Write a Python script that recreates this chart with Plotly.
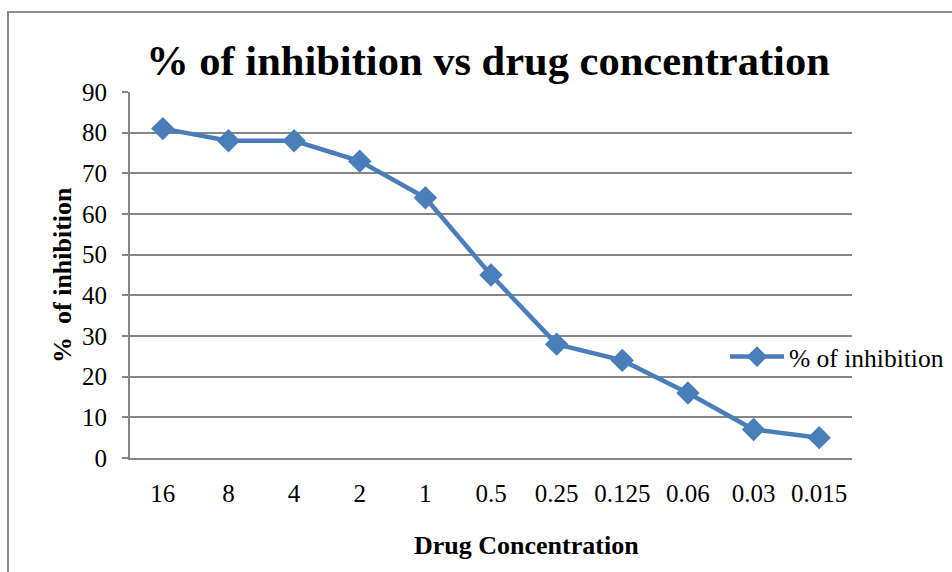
import plotly.graph_objects as go

concentrations = ["16", "8", "4", "2", "1", "0.5", "0.25", "0.125", "0.06", "0.03", "0.015"]
inhibition = [81, 78, 78, 73, 64, 45, 28, 24, 16, 7, 5]
y_ticks = [0, 10, 20, 30, 40, 50, 60, 70, 80, 90]

SERIF = "Liberation Serif, Times New Roman, serif"
GRID = "#868686"

fig = go.Figure()
fig.add_trace(go.Scatter(
    x=concentrations, y=inhibition, mode="lines+markers",
    name="% of inhibition",
    line=dict(color="#4a7ebb", width=4.5),
    marker=dict(symbol="diamond", size=18, color="#4a7ebb"),
))

L, R, T, B = 130, 852, 92, 458
W, H = 952, 572
pw, ph = R - L, B - T

fig.update_layout(
    width=W, height=H,
    margin=dict(l=L, r=W - R, t=T, b=H - B, autoexpand=False),
    paper_bgcolor="white", plot_bgcolor="white",
    font=dict(family=SERIF, size=25, color="black"),
    title=dict(text="<b>% of inhibition vs drug concentration</b>",
               font=dict(family=SERIF, size=42.5, color="black"),
               x=488 / W, xref="container", xanchor="center",
               y=1 - 60 / H, yref="container", yanchor="middle"),
    showlegend=True,
    legend=dict(x=(725 - L) / pw, xanchor="left", y=(B - 357) / ph, yanchor="middle",
                bgcolor="rgba(0,0,0,0)", font=dict(family=SERIF, size=25.5),
                itemwidth=54),
    xaxis=dict(type="category", range=[-0.5, len(concentrations) - 0.5],
               showgrid=False, showline=True, linecolor=GRID, linewidth=2,
               ticks="", ticklabelstandoff=12, tickfont=dict(family=SERIF, size=25)),
    yaxis=dict(range=[0, 90], tickvals=y_ticks, showgrid=True, gridcolor=GRID, gridwidth=2,
               showline=True, linecolor=GRID, linewidth=2, ticks="outside", ticklen=6,
               tickcolor=GRID, tickwidth=2, zeroline=False, ticklabelstandoff=10,
               tickfont=dict(family=SERIF, size=25)),
    annotations=[
        dict(text="<b>Drug Concentration</b>", xref="paper", yref="paper",
             x=(526 - L) / pw, y=(B - 545) / ph, xanchor="center", yanchor="middle",
             showarrow=False, font=dict(family=SERIF, size=26)),
        dict(text="<b>%\u00a0\u00a0of inhibition</b>", xref="paper", yref="paper",
             x=(62 - L) / pw, y=(B - 275) / ph, xanchor="center", yanchor="middle",
             textangle=-90, showarrow=False, font=dict(family=SERIF, size=26)),
    ],
    shapes=[dict(type="rect", xref="paper", yref="paper",
                 x0=(8 - L) / pw, x1=(1000 - L) / pw, y0=(B - 640) / ph, y1=(B - 12) / ph,
                 line=dict(color="#8c8c8c", width=2), fillcolor="rgba(0,0,0,0)", layer="below")],
)

fig.write_html("out.html", config={"displayModeBar": False},
               post_script="document.body.style.margin='0';document.body.style.overflow='hidden';")
